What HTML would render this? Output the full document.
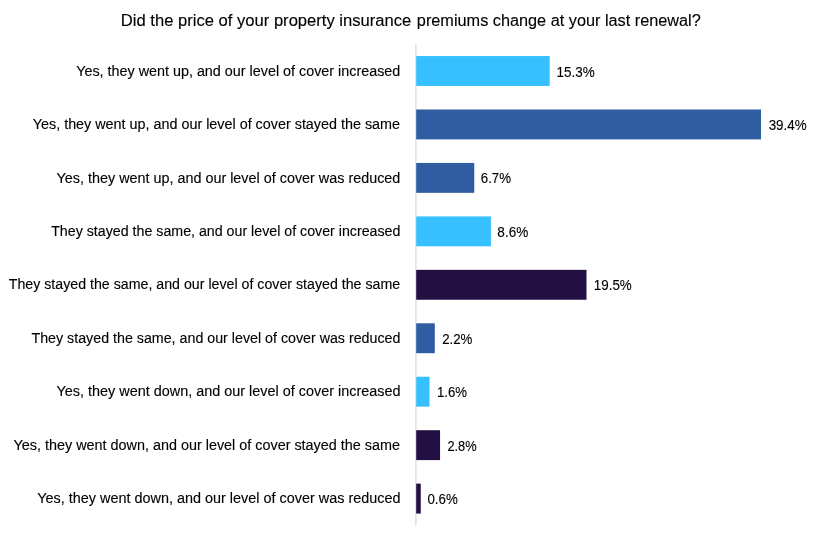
<!DOCTYPE html>
<html lang="en"><head><meta charset="utf-8"><title>Property insurance premiums chart</title>
<style>
html,body{margin:0;padding:0;background:#fff;}
body{width:823px;height:538px;overflow:hidden;}
svg{display:block;}
text{font-family:"Liberation Sans",sans-serif;fill:#000;stroke:#000;stroke-width:0.12px;}
.t{font-size:16px;}
.l{font-size:14px;}
.v{font-size:14.1px;}
</style></head><body>
<svg width="823" height="538" viewBox="0 0 823 538">
<rect width="823" height="538" fill="#fff"/>
<text class="t" y="25.5"><tspan x="120.85" textLength="290.43" lengthAdjust="spacingAndGlyphs">Did the price of your property insurance</tspan> <tspan x="416.86" textLength="283.88" lengthAdjust="spacingAndGlyphs">premiums change at your last renewal?</tspan></text>
<rect x="415.3" y="43.97" width="1.15" height="481.35" fill="#d6d6d6"/>
<rect x="416.2" y="56.05" width="133.48" height="29.9" fill="#37c0ff"/>
<text class="l" x="76.17" y="75.59" textLength="324.16" lengthAdjust="spacingAndGlyphs">Yes, they went up, and our level of cover increased</text>
<text class="v" x="556.61" y="76.50" textLength="38.16" lengthAdjust="spacingAndGlyphs">15.3%</text>
<rect x="416.2" y="109.49" width="344.84" height="29.9" fill="#305ca2"/>
<text class="l" x="32.76" y="129.04" textLength="367.28" lengthAdjust="spacingAndGlyphs">Yes, they went up, and our level of cover stayed the same</text>
<text class="v" x="768.66" y="129.94" textLength="37.92" lengthAdjust="spacingAndGlyphs">39.4%</text>
<rect x="416.2" y="162.95" width="58.06" height="29.9" fill="#305ca2"/>
<text class="l" x="56.55" y="182.50" textLength="343.77" lengthAdjust="spacingAndGlyphs">Yes, they went up, and our level of cover was reduced</text>
<text class="v" x="480.74" y="183.40" textLength="30.32" lengthAdjust="spacingAndGlyphs">6.7%</text>
<rect x="416.2" y="216.40" width="74.72" height="29.9" fill="#37c0ff"/>
<text class="l" x="51.18" y="235.95" textLength="349.27" lengthAdjust="spacingAndGlyphs">They stayed the same, and our level of cover increased</text>
<text class="v" x="497.37" y="236.85" textLength="30.87" lengthAdjust="spacingAndGlyphs">8.6%</text>
<rect x="416.2" y="269.85" width="170.31" height="29.9" fill="#231042"/>
<text class="l" x="8.76" y="289.40" textLength="391.40" lengthAdjust="spacingAndGlyphs">They stayed the same, and our level of cover stayed the same</text>
<text class="v" x="593.79" y="290.30" textLength="37.99" lengthAdjust="spacingAndGlyphs">19.5%</text>
<rect x="416.2" y="323.30" width="18.59" height="29.9" fill="#305ca2"/>
<text class="l" x="31.51" y="342.85" textLength="368.92" lengthAdjust="spacingAndGlyphs">They stayed the same, and our level of cover was reduced</text>
<text class="v" x="442.15" y="343.75" textLength="30.26" lengthAdjust="spacingAndGlyphs">2.2%</text>
<rect x="416.2" y="376.75" width="13.33" height="29.9" fill="#37c0ff"/>
<text class="l" x="56.55" y="396.30" textLength="343.97" lengthAdjust="spacingAndGlyphs">Yes, they went down, and our level of cover increased</text>
<text class="v" x="436.96" y="397.20" textLength="30.00" lengthAdjust="spacingAndGlyphs">1.6%</text>
<rect x="416.2" y="430.20" width="23.86" height="29.9" fill="#231042"/>
<text class="l" x="13.55" y="449.75" textLength="386.41" lengthAdjust="spacingAndGlyphs">Yes, they went down, and our level of cover stayed the same</text>
<text class="v" x="447.42" y="450.65" textLength="29.20" lengthAdjust="spacingAndGlyphs">2.8%</text>
<rect x="416.2" y="483.65" width="4.56" height="29.9" fill="#231042"/>
<text class="l" x="37.28" y="503.20" textLength="363.24" lengthAdjust="spacingAndGlyphs">Yes, they went down, and our level of cover was reduced</text>
<text class="v" x="427.43" y="504.10" textLength="30.34" lengthAdjust="spacingAndGlyphs">0.6%</text>
<rect x="0" y="537" width="823" height="1" fill="#fdfdfd"/>
</svg></body></html>
